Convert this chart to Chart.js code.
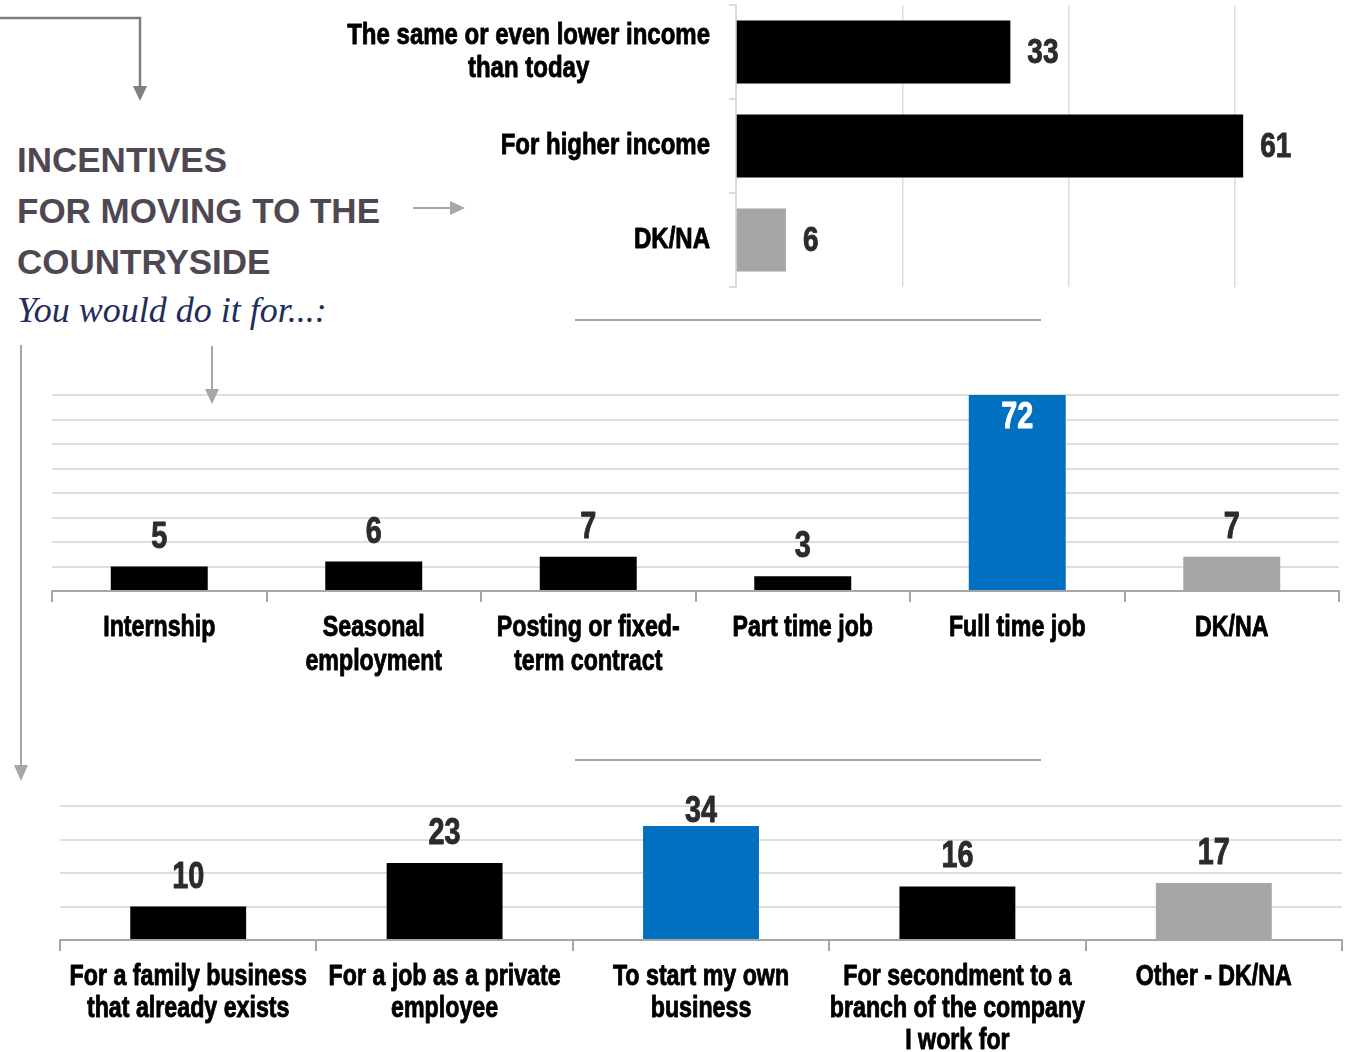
<!DOCTYPE html>
<html>
<head>
<meta charset="utf-8">
<script src="https://cdn.jsdelivr.net/npm/chart.js@4.4.1/dist/chart.umd.min.js"></script>
<style>
  body { margin: 0; width: 1350px; height: 1052px; background: #fff; position: relative; overflow: hidden; }
  .box { position: absolute; }
  #title { left: 17px; top: 134px; font: bold 35px 'Liberation Sans', Arial, sans-serif; color: #4f4852; line-height: 51px; }
  #subtitle { left: 17px; top: 292px; font: italic 36px 'Liberation Serif', serif; color: #1f2d5c; line-height: 36px; white-space: nowrap; }
  .rule { position: absolute; height: 2px; background: #a6a6a6; }
</style>
</head>
<body>

<div id="title" class="box">INCENTIVES<br>FOR MOVING TO THE<br>COUNTRYSIDE</div>
<div id="subtitle" class="box">You would do it for...:</div>

<canvas id="incomeChart" class="box" style="left:200px;top:0px" width="1150" height="300"></canvas>
<canvas id="jobChart" class="box" style="left:40px;top:380px" width="1310" height="310"></canvas>
<canvas id="businessChart" class="box" style="left:50px;top:780px" width="1300" height="272"></canvas>

<div class="rule" style="left:575px;top:319px;width:466px"></div>
<div class="rule" style="left:575px;top:759px;width:466px"></div>

<svg class="box" style="left:0;top:0;z-index:5" width="1350" height="1052">
  <polyline points="0,18 140,18 140,88" fill="none" stroke="#7f7f7f" stroke-width="2.5"/>
  <polygon points="133,86 147,86 140,101" fill="#7f7f7f"/>
  <line x1="413" y1="208" x2="452" y2="208" stroke="#a6a6a6" stroke-width="2"/>
  <polygon points="450,201 450,215 465,208" fill="#a6a6a6"/>
  <line x1="212" y1="346" x2="212" y2="391" stroke="#a6a6a6" stroke-width="2"/>
  <polygon points="205,389 219,389 212,404" fill="#a6a6a6"/>
  <line x1="21" y1="345" x2="21" y2="767" stroke="#a6a6a6" stroke-width="2"/>
  <polygon points="14,765 28,765 21,781" fill="#a6a6a6"/>
</svg>

<script>
// data
const incomeLabels = [['The same or even lower income', 'than today'], 'For higher income', 'DK/NA'];
const incomeValues = [33, 61, 6];

const jobLabels = ['Internship', ['Seasonal', 'employment'], ['Posting or fixed-', 'term contract'], 'Part time job', 'Full time job', 'DK/NA'];
const jobValues = [5, 6, 7, 3, 72, 7];

const businessLabels = [['For a family business', 'that already exists'], ['For a job as a private', 'employee'], ['To start my own', 'business'], ['For secondment to a', 'branch of the company', 'I work for'], 'Other - DK/NA'];
const businessValues = [10, 23, 34, 16, 17];

// axis ranges (ticks are hidden, only gridlines show)
const incomeAxis = { max: 70, step: 20 };
const jobAxis = { max: 40, step: 5 };
const businessAxis = { max: 40, step: 10 };

// styles
const BLACK = '#000000', GREY = '#a6a6a6', BLUE = '#0070c0';
const incomeColors = [BLACK, BLACK, GREY];
const jobColors = [BLACK, BLACK, BLACK, BLACK, BLUE, GREY];
const businessColors = [BLACK, BLACK, BLUE, BLACK, GREY];
const SANS = "'Liberation Sans', Arial, sans-serif";
const SQUEEZE = 0.8;   // no narrow font installed, so squeeze Arial-like bold horizontally
const VALUE_COLOR = '#2b2b2b';
const GRID = '#dedede';

function narrowText(ctx, text, x, y, align) {
    ctx.save();
    ctx.translate(x, y);
    ctx.scale(SQUEEZE, 1);
    ctx.textAlign = align;
    // thin outline to get the heavier look of the narrow bold face
    ctx.strokeStyle = ctx.fillStyle;
    ctx.lineWidth = 0.9;
    ctx.lineJoin = 'round';
    ctx.strokeText(text, 0, 0);
    ctx.fillText(text, 0, 0);
    ctx.restore();
}

// number labels next to / above the bars
const valueLabels = {
    id: 'valueLabels',
    afterDatasetsDraw(chart, args, opts) {
        const { ctx, chartArea } = chart;
        const meta = chart.getDatasetMeta(0);
        const data = chart.data.datasets[0].data;
        const valueScale = chart.scales[opts.horizontal ? 'x' : 'y'];
        ctx.save();
        ctx.font = 'bold ' + opts.size + 'px ' + SANS;
        meta.data.forEach((bar, i) => {
            const v = String(data[i]);
            if (opts.horizontal) {
                ctx.textBaseline = 'middle';
                ctx.fillStyle = VALUE_COLOR;
                narrowText(ctx, v, bar.x + opts.gap, bar.y + 1, 'left');
            } else if (data[i] > valueScale.max) {
                // bar is cut by the axis, label goes inside in white
                ctx.textBaseline = 'alphabetic';
                ctx.fillStyle = '#ffffff';
                narrowText(ctx, v, bar.x, chartArea.top + 33, 'center');
            } else {
                ctx.textBaseline = 'alphabetic';
                ctx.fillStyle = VALUE_COLOR;
                narrowText(ctx, v, bar.x, Math.max(bar.y - opts.gap, chartArea.top + 16), 'center');
            }
        });
        ctx.restore();
    }
};

// category labels, lines centered on each other
const categoryLabels = {
    id: 'categoryLabels',
    afterDraw(chart, args, opts) {
        const { ctx, chartArea } = chart;
        ctx.save();
        ctx.font = 'bold ' + opts.size + 'px ' + SANS;
        ctx.fillStyle = '#000';
        ctx.textBaseline = 'middle';
        chart.data.labels.forEach((lab, i) => {
            const lines = Array.isArray(lab) ? lab : [lab];
            if (opts.horizontal) {
                const w = Math.max(...lines.map(l => ctx.measureText(l).width)) * SQUEEZE;
                const cy = chart.scales.y.getPixelForTick(i);
                const y0 = cy - (lines.length - 1) * opts.lineHeight / 2;
                const right = chartArea.left - opts.gap;
                lines.forEach((l, k) => narrowText(ctx, l, right - w / 2, y0 + k * opts.lineHeight, 'center'));
            } else {
                const x = chart.scales.x.getPixelForTick(i);
                lines.forEach((l, k) => narrowText(ctx, l, x, chartArea.bottom + opts.gap + k * opts.lineHeight, 'center'));
            }
        });
        ctx.restore();
    }
};

new Chart(document.getElementById('incomeChart'), {
    type: 'bar',
    data: {
        labels: incomeLabels,
        datasets: [{ data: incomeValues, backgroundColor: incomeColors, categoryPercentage: 1, barPercentage: 0.67 }]
    },
    options: {
        indexAxis: 'y',
        responsive: false,
        animation: false,
        layout: { padding: { left: 0, right: 32, top: 5, bottom: 13 } },
        plugins: {
            legend: { display: false },
            tooltip: { enabled: false },
            valueLabels: { horizontal: true, size: 35, gap: 17 },
            categoryLabels: { horizontal: true, size: 30, gap: 26, lineHeight: 33 }
        },
        scales: {
            x: {
                min: 0,
                max: incomeAxis.max,
                ticks: { display: false, stepSize: incomeAxis.step },
                grid: {
                    drawTicks: false,
                    lineWidth: 1.5,
                    color: c => (c.tick && c.tick.value > 0 && c.tick.value % incomeAxis.step === 0) ? GRID : 'rgba(0,0,0,0)'
                },
                border: { display: false },
                afterFit: s => { s.height = 0; }
            },
            y: {
                ticks: { display: false },
                grid: { drawOnChartArea: false, drawTicks: true, tickLength: 7, color: '#d9d9d9', lineWidth: 2, offset: true },
                border: { display: true, color: '#d9d9d9', width: 2 },
                afterFit: s => { s.width = 536; }
            }
        }
    },
    plugins: [valueLabels, categoryLabels]
});

function columnOptions(axis, padding, xHeight, lineHeight) {
    return {
        responsive: false,
        animation: false,
        layout: { padding: padding },
        plugins: {
            legend: { display: false },
            tooltip: { enabled: false },
            valueLabels: { horizontal: false, size: 36, gap: 19 },
            categoryLabels: { horizontal: false, size: 29, gap: 37, lineHeight: lineHeight }
        },
        scales: {
            x: {
                ticks: { display: false },
                grid: { drawOnChartArea: false, drawTicks: true, tickLength: 11, color: '#a6a6a6', lineWidth: 2, offset: true },
                border: { color: '#a6a6a6', width: 2 },
                afterFit: s => { s.height = xHeight; }
            },
            y: {
                min: 0,
                max: axis.max,
                ticks: { display: false, stepSize: axis.step },
                grid: { color: GRID, lineWidth: 2, drawTicks: false },
                border: { display: false },
                afterFit: s => { s.width = 0; }
            }
        }
    };
}

new Chart(document.getElementById('jobChart'), {
    type: 'bar',
    data: {
        labels: jobLabels,
        datasets: [{ data: jobValues, backgroundColor: jobColors, categoryPercentage: 1, barPercentage: 0.452 }]
    },
    options: columnOptions(jobAxis, { left: 12, right: 11, top: 15, bottom: 0 }, 99, 34),
    plugins: [valueLabels, categoryLabels]
});

new Chart(document.getElementById('businessChart'), {
    type: 'bar',
    data: {
        labels: businessLabels,
        datasets: [{ data: businessValues, backgroundColor: businessColors, categoryPercentage: 1, barPercentage: 0.452 }]
    },
    options: columnOptions(businessAxis, { left: 10, right: 8, top: 26, bottom: 0 }, 112, 32),
    plugins: [valueLabels, categoryLabels]
});
</script>
</body>
</html>
